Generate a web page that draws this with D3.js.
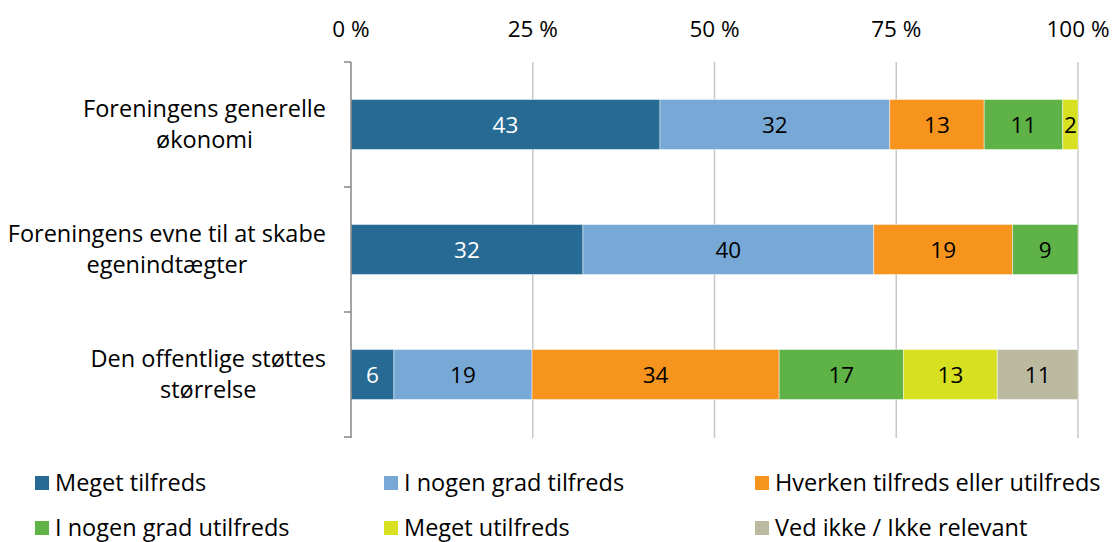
<!DOCTYPE html>
<html>
<head>
<meta charset="utf-8">
<script src="https://cdn.jsdelivr.net/npm/d3@7"></script>
<style>
  body { margin: 0; background: #fff; }
  svg { display: block; font-family: "Open Sans", "Liberation Sans", Arial, sans-serif; }
</style>
</head>
<body>
<svg id="chart" width="1114" height="542"></svg>
<script>
// ---- data ----
const categories = [
  ["Foreningens generelle", "økonomi"],
  ["Foreningens evne til at skabe", "egenindtægter"],
  ["Den offentlige støttes", "størrelse"]
];
const seriesNames = [
  "Meget tilfreds",
  "I nogen grad tilfreds",
  "Hverken tilfreds eller utilfreds",
  "I nogen grad utilfreds",
  "Meget utilfreds",
  "Ved ikke / Ikke relevant"
];
const megetTilfreds      = [42.5, 31.9, 5.9];
const iNogenGradTilfreds = [31.6, 40.0, 19.0];
const hverken            = [13.0, 19.1, 34.0];
const iNogenGradUtilfreds= [10.8, 9.0, 17.1];
const megetUtilfreds     = [2.1, 0, 12.9];
const vedIkke            = [0, 0, 11.1];
const colors = ["#276A93", "#78A9D6", "#F7941E", "#5EB246", "#D7E021", "#BBBAA0"];
const tickValues = [0, 25, 50, 75, 100];

const seriesValues = [megetTilfreds, iNogenGradTilfreds, hverken, iNogenGradUtilfreds, megetUtilfreds, vedIkke];

// ---- layout ----
const svg = d3.select("#chart");
const FS = 22.5;
const FS2 = 23.5;
const x = d3.scaleLinear().domain([0, 100]).range([351, 1078]);
const y = d3.scaleBand().domain(d3.range(categories.length)).range([62, 437])
  .paddingInner(0.6).paddingOuter(0.3);

// gridlines
svg.append("g").selectAll("line").data(tickValues.slice(1)).join("line")
  .attr("x1", d => x(d)).attr("x2", d => x(d))
  .attr("y1", 62).attr("y2", 438)
  .attr("stroke", "#c8c8c8").attr("stroke-width", 1.5);

// top tick labels
svg.append("g").selectAll("text").data(tickValues).join("text")
  .attr("x", d => x(d)).attr("y", 29)
  .attr("dy", "0.36em")
  .attr("text-anchor", "middle")
  .attr("font-size", FS).attr("fill", "#000")
  .text(d => d + " %");

// stacked rows
const rows = categories.map((c, i) => {
  let acc = 0;
  return seriesValues.map((s, k) => {
    const v = s[i];
    const seg = { row: i, k, v, x0: acc, x1: acc + v };
    acc += v;
    return seg;
  }).filter(d => d.v > 0);
});

const segs = rows.flat();
svg.append("g").selectAll("rect").data(segs).join("rect")
  .attr("x", d => x(d.x0)).attr("width", d => x(d.x1) - x(d.x0))
  .attr("y", d => y(d.row)).attr("height", y.bandwidth())
  .attr("fill", d => colors[d.k])
  .attr("stroke", "rgba(255,255,255,0.45)").attr("stroke-width", 1);

svg.append("g").selectAll("text").data(segs).join("text")
  .attr("x", d => (x(d.x0) + x(d.x1)) / 2)
  .attr("y", d => y(d.row) + y.bandwidth() / 2)
  .attr("dy", "0.36em")
  .attr("text-anchor", "middle")
  .attr("font-size", FS)
  .attr("fill", d => d.k === 0 ? "#fff" : "#000")
  .text(d => Math.round(d.v));

// left axis
const axisG = svg.append("g").attr("stroke", "#868686").attr("stroke-width", 1.5);
axisG.append("line").attr("x1", 351).attr("x2", 351).attr("y1", 62).attr("y2", 438);
const bounds = [62, 187, 312, 437];
axisG.selectAll("line.t").data(bounds).join("line").attr("class", "t")
  .attr("x1", 344).attr("x2", 351).attr("y1", d => d).attr("y2", d => d);

// category labels: block right-aligned at 325, lines centered within block
const catG = svg.append("g");
categories.forEach((lines, i) => {
  const cy = y(i) + y.bandwidth() / 2;
  const g = catG.append("g");
  const ts = lines.map((t, j) => g.append("text")
    .attr("y", cy + (j - (lines.length - 1) / 2) * 31)
    .attr("dy", "0.36em")
    .attr("text-anchor", "middle")
    .attr("font-size", FS2).attr("fill", "#000")
    .text(t));
  const w = d3.max(ts, t => t.node().getComputedTextLength());
  ts.forEach(t => t.attr("x", 326 - w / 2));
});

// legend
const legendPos = [
  [35, 483], [384, 483], [755, 483],
  [35, 528], [384, 528], [755, 528]
];
const lg = svg.append("g").selectAll("g").data(seriesNames).join("g")
  .attr("transform", (d, i) => `translate(${legendPos[i][0]},${legendPos[i][1]})`);
lg.append("rect").attr("x", 0).attr("y", -7).attr("width", 14).attr("height", 14)
  .attr("fill", (d, i) => colors[i]);
lg.append("text").attr("x", 20).attr("dy", "0.36em")
  .attr("font-size", FS2).attr("fill", "#000").text(d => d);
</script>
</body>
</html>
